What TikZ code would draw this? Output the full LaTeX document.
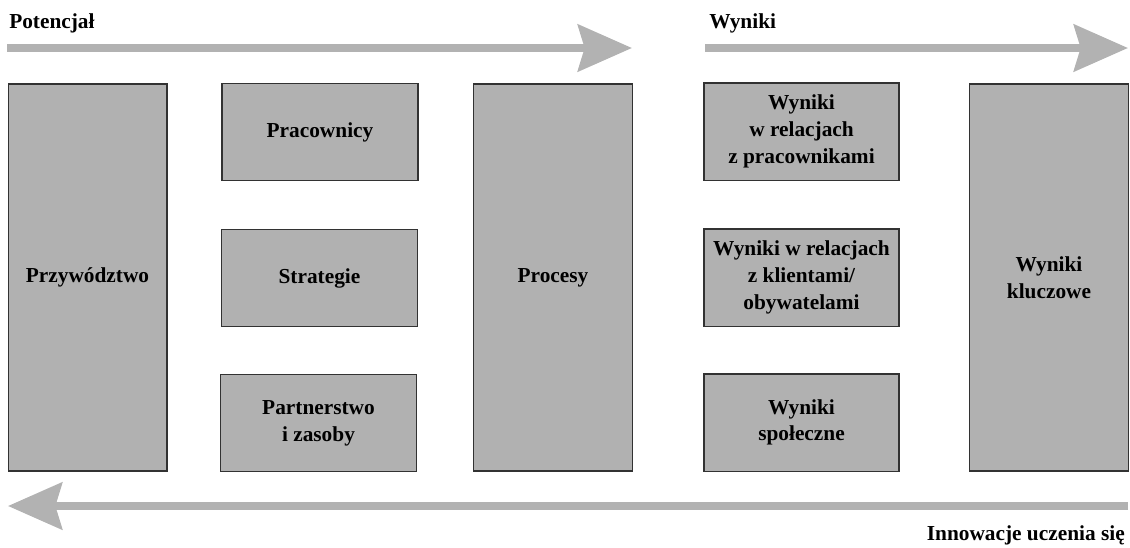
\documentclass[tikz,border=0pt]{standalone}
\usepackage{fontspec}
\setmainfont{Liberation Serif}
\usetikzlibrary{arrows.meta}

\definecolor{boxgray}{RGB}{177,177,177}
\definecolor{edgegray}{RGB}{50,50,50}
\definecolor{arrowgray}{RGB}{178,178,178}

\tikzset{
	box/.style={draw=edgegray, line width=1pt, fill=boxgray, align=center, inner sep=0.75pt,
		font=\fontsize{16}{20}\selectfont\bfseries},
	tallbox/.style={box, minimum width=119pt, minimum height=290.25pt},
	smallbox/.style={box, minimum width=147pt, minimum height=73pt},
	flowarrow/.style={draw=arrowgray, line width=6pt,
		-{Stealth[length=40.5pt, width=35pt, inset=5pt, fill=arrowgray]}},
	flowlabel/.style={inner sep=0.75pt, font=\fontsize{16}{20}\selectfont\bfseries}
}

\begin{document}
\begin{tikzpicture}[x=0.75pt,y=0.75pt,yscale=-1,xscale=1]
	\useasboundingbox (0,0) rectangle (1130,547);
	% potencjal
	\node (prz) [tallbox] at (87.5,277.5) {Przywództwo};
	\node (prac) [smallbox] at (320,132) {Pracownicy};
	\node (strat) [smallbox] at (319.5,278) {Strategie};
	\node (part) [smallbox] at (318.5,423) {Partnerstwo\\i zasoby};
	\node (proc) [tallbox] at (553,277.5) {Procesy};
	% wyniki
	\node (wprac) [smallbox, minimum width=146.25pt] at (801.5,131.5) {Wyniki\\w relacjach\\z pracownikami};
	\node (wklient) [smallbox, minimum width=146.25pt] at (801.5,277.5) {Wyniki w relacjach\\z klientami/\\obywatelami};
	\node (wspol) [smallbox, minimum width=146.25pt] at (801.5,422.5) {Wyniki\\społeczne};
	\node (wklucz) [tallbox] at (1049,277.5) {Wyniki\\kluczowe};
	% strzalki
	\coordinate (potS) at (7,48);
	\coordinate (potE) at (632,48);
	\coordinate (wynS) at (705,48);
	\coordinate (wynE) at (1128,48);
	\coordinate (innS) at (1128,506);
	\coordinate (innE) at (8,506);
	\draw [flowarrow] (potS) -- (potE);
	\draw [flowarrow] (wynS) -- (wynE);
	\draw [flowarrow] (innS) -- (innE);
	\node (potL) [flowlabel, anchor=base west] at (8,28) {Potencjał};
	\node (wynL) [flowlabel, anchor=base west] at (708,28) {Wyniki};
	\node (innL) [flowlabel, anchor=base east] at (1126,540) {Innowacje uczenia się};
\end{tikzpicture}
\end{document}
